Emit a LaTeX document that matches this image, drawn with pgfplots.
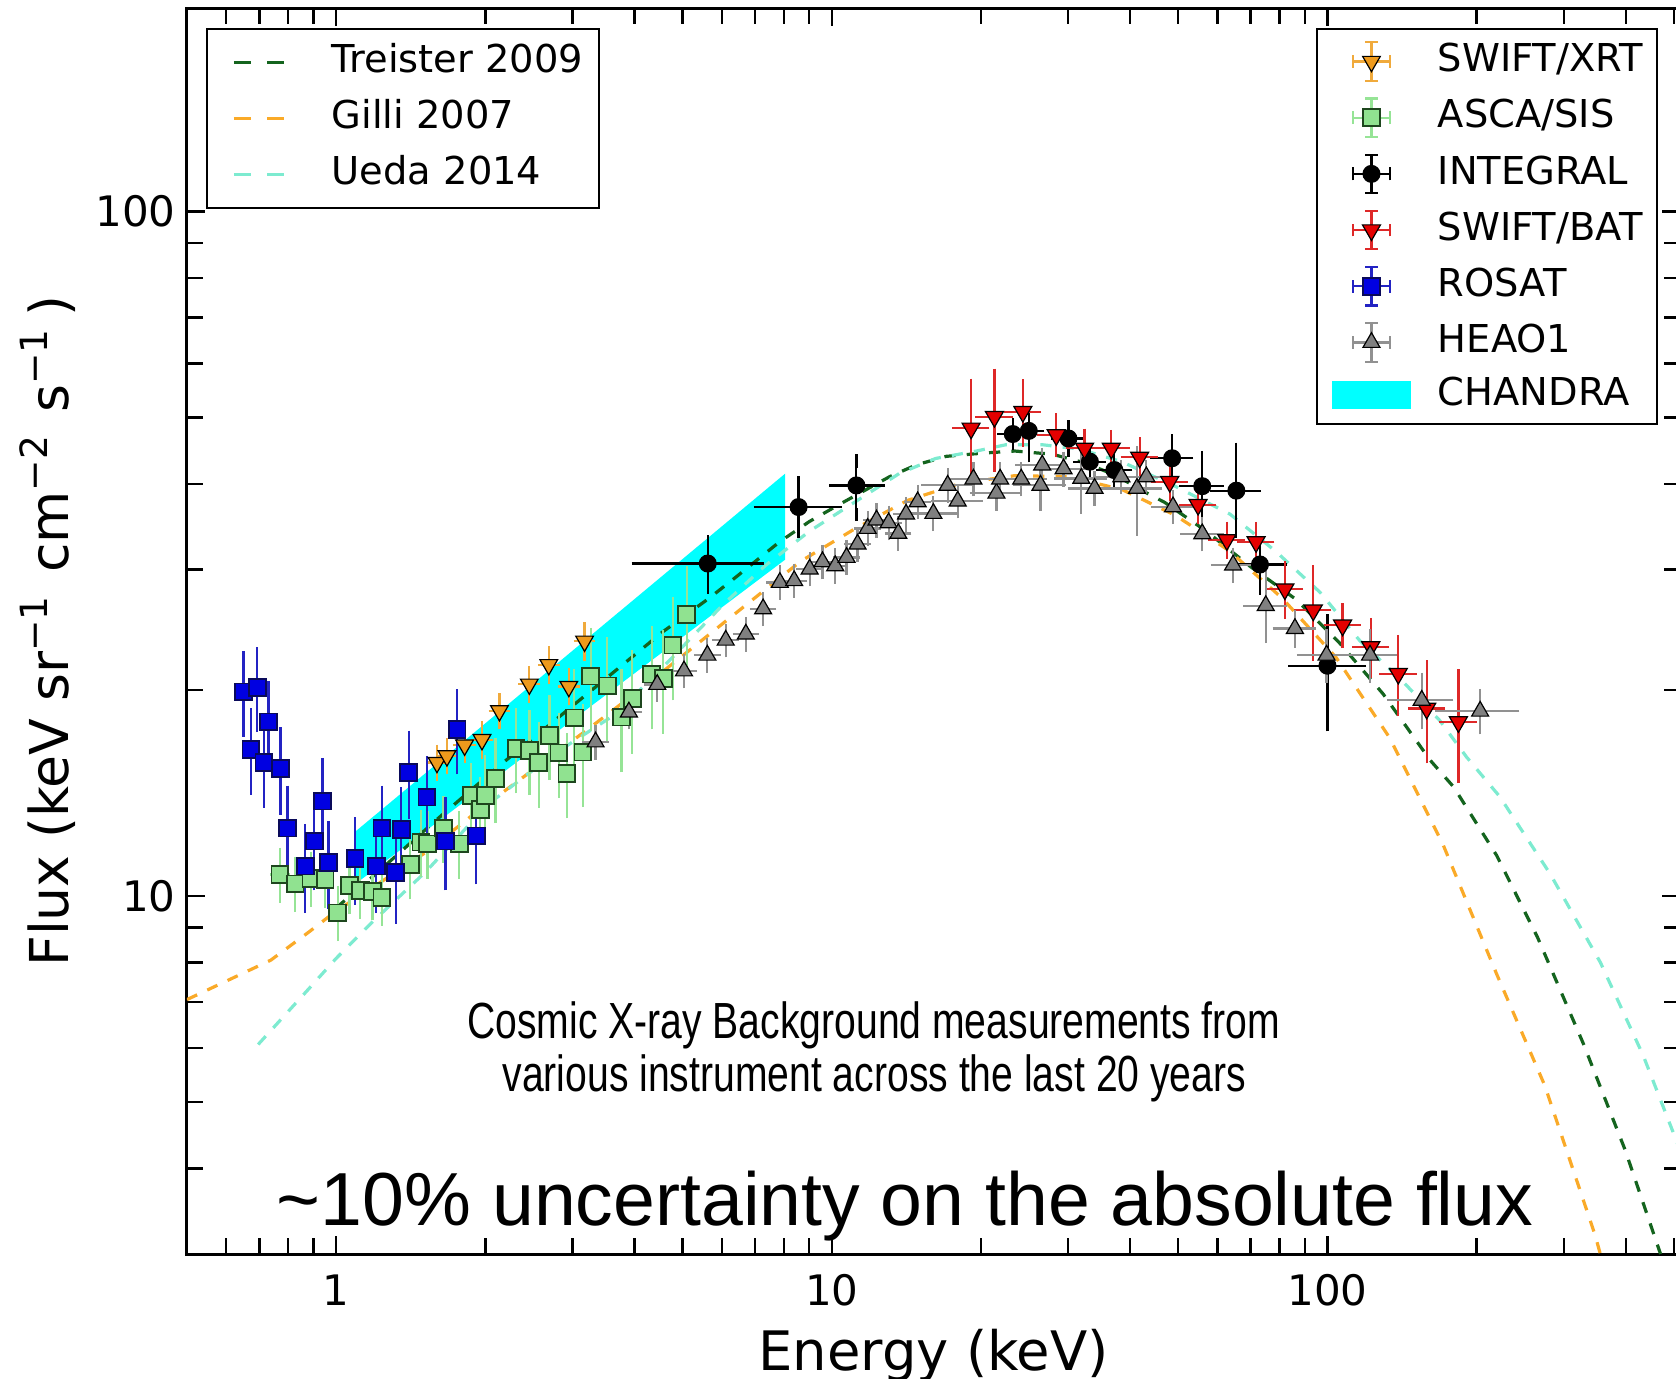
\documentclass[border=0pt]{standalone}
\usepackage{fontspec}
\setmainfont{DejaVu Sans}
\newfontfamily\lib{Liberation Sans}
\usepackage{graphicx}
\usepackage{pgfplots}
\pgfplotsset{compat=1.18}
\usepackage{pgfplotstable}

\definecolor{xrtc}{RGB}{238,154,28}
\definecolor{xrterr}{RGB}{240,170,60}
\definecolor{ascaf}{RGB}{144,226,144}
\definecolor{ascae}{RGB}{30,70,30}
\definecolor{ascaerr}{RGB}{150,228,150}
\definecolor{batf}{RGB}{228,0,0}
\definecolor{baterr}{RGB}{222,40,40}
\definecolor{rosf}{RGB}{0,0,225}
\definecolor{rose}{RGB}{10,10,90}
\definecolor{roserr}{RGB}{35,35,195}
\definecolor{heaof}{RGB}{128,128,128}
\definecolor{heaoerr}{RGB}{145,145,145}
\definecolor{treic}{RGB}{20,100,30}
\definecolor{gilc}{RGB}{250,170,40}
\definecolor{uedac}{RGB}{125,235,208}
\definecolor{chandra}{RGB}{0,255,255}

\pgfplotstableread{
x y ex ey
1.597 15.67 0.03 0.6
1.673 16.02 0.03 0.6
1.816 16.61 0.04 0.6
1.969 16.92 0.04 0.7
2.135 18.65 0.04 0.7
2.453 20.39 0.05 0.8
2.685 21.77 0.05 0.9
2.947 20.23 0.06 0.8
3.171 23.56 0.06 1.0
}\xrt

\pgfplotstableread{
x y ex ey
0.770 10.75 0.01 0.75
0.826 10.42 0.01 0.73
0.889 10.60 0.01 0.74
0.950 10.56 0.01 0.74
1.007 9.45 0.01 0.66
1.064 10.36 0.01 0.73
1.118 10.19 0.01 0.71
1.184 10.16 0.01 0.71
1.236 9.96 0.01 0.70
1.411 11.12 0.01 1.00
1.482 11.99 0.01 1.08
1.529 11.92 0.01 1.07
1.647 12.57 0.01 1.13
1.772 11.92 0.01 1.07
1.874 14.03 0.01 1.26
1.954 13.37 0.01 1.20
2.000 14.03 0.01 1.68
2.096 14.85 0.01 1.78
2.307 16.42 0.01 1.97
2.455 16.33 0.01 1.96
2.563 15.66 0.01 1.88
2.694 17.17 0.01 2.06
2.813 16.18 0.01 1.94
2.920 15.10 0.01 1.81
3.024 18.21 0.01 2.73
3.145 16.23 0.01 2.43
3.261 20.95 0.01 3.14
3.523 20.28 0.01 3.04
3.766 18.26 0.01 2.74
3.957 19.43 0.01 2.91
4.331 21.09 0.01 3.16
4.570 20.79 0.01 3.12
4.780 23.25 0.01 3.49
5.096 25.78 0.01 3.87
}\asca

\pgfplotstableread{
x y exm exp eym eyp
5.62 30.6 1.55 1.46 2.3 2.3
8.57 37.0 1.38 1.59 2.9 3.1
11.21 39.8 1.0 1.2 3.7 3.4
23.18 47.3 0.9 0.9 1.5 1.5
24.97 47.8 1.0 1.0 3.8 2.0
30.02 46.6 1.5 1.5 1.8 1.8
33.17 43.1 1.5 1.5 1.5 1.5
37.17 41.9 2.0 2.0 1.5 1.5
48.6 43.6 3.3 3.3 2.6 2.6
55.9 39.7 4.0 4.0 4.0 4.0
65.5 39.1 5.6 5.6 5.0 5.8
73.1 30.5 7.3 7.3 2.3 2.3
100 21.7 14 16 3.9 3.5
}\integral

\pgfplotstableread{
x y ex ey
19.10 48.22 1.05 7.5
21.29 50.13 1.17 7.5
24.29 50.99 1.34 4.6
28.37 47.14 1.56 2.4
32.36 45.07 1.78 2.0
36.64 45.07 2.0 1.8
41.80 43.73 2.3 2.0
48.07 40.29 2.6 1.7
54.83 37.31 3.0 1.6
62.67 33.13 3.4 1.3
71.79 32.91 3.9 1.5
82.06 28.07 4.5 2.1
93.62 26.15 5.1 3.6
107.3 24.86 5.9 1.3
122.3 23.11 6.7 1.8
139.0 21.13 7.6 2.4
158.6 18.79 8.7 2.8
183.8 17.96 10.1 3.0
}\bat

\pgfplotstableread{
x y ex ey
0.650 19.87 0.005 2.4
0.693 20.16 0.005 2.4
0.673 16.38 0.005 2.0
0.730 17.96 0.005 2.2
0.715 15.66 0.005 1.9
0.772 15.35 0.005 1.9
0.798 12.57 0.005 1.6
0.866 11.06 0.005 1.4
0.903 12.03 0.005 1.6
0.938 13.76 0.005 1.8
0.965 11.19 0.005 1.4
1.092 11.34 0.005 1.4
1.205 11.06 0.005 1.4
1.236 12.57 0.005 1.6
1.319 10.82 0.005 1.5
1.353 12.50 0.005 1.6
1.400 15.15 0.005 1.9
1.524 13.95 0.005 1.7
1.661 12.03 0.005 1.6
1.753 17.50 0.005 2.1
1.918 12.24 0.005 1.6
}\rosat

\pgfplotstableread{
x y ex ey
3.337 16.79 0.10 0.6
3.896 18.57 0.12 0.65
4.444 20.37 0.13 0.7
5.032 21.32 0.15 0.75
5.609 22.48 0.17 0.8
6.109 23.64 0.18 0.8
6.707 24.13 0.20 0.85
7.268 26.27 0.22 0.9
7.856 28.71 0.24 1.0
8.395 28.88 0.25 1.0
9.023 30.03 0.27 1.05
9.576 30.78 0.29 1.1
10.16 30.37 0.30 1.1
10.71 31.23 0.32 1.1
11.27 32.66 0.34 1.15
11.81 34.43 0.35 1.2
12.31 35.41 0.37 1.25
13.02 35.09 0.39 1.25
13.62 33.86 0.41 1.2
14.12 36.13 0.42 1.3
14.90 37.66 0.45 1.3
16.03 36.21 1.4 1.3
17.13 39.82 1.5 1.4
17.95 37.75 1.6 1.3
19.31 40.64 1.7 1.4
21.49 38.77 1.9 1.4
21.86 40.64 2.0 1.4
24.11 40.64 2.2 1.4
26.37 39.82 2.4 2.4
26.58 42.61 2.4 1.5
29.35 42.06 2.6 1.5
31.87 40.74 2.9 3.7
33.90 39.40 3.0 1.4
38.39 40.96 3.5 1.4
41.28 39.40 3.7 5.0
43.12 40.96 3.9 1.4
48.80 37.03 3.4 1.3
55.91 33.81 3.9 1.2
64.53 30.44 4.5 1.1
75.10 26.56 5.3 2.6
85.99 24.59 6.0 1.0
99.6 22.48 10 1.5
121.9 22.48 12 1.5
155.0 19.32 19 1.4
203.3 18.62 33 1.0
}\heao

\pgfplotstableread{
x y
1.000 9.61
1.184 10.67
1.636 13.14
2.162 15.62
2.758 18.04
3.537 20.91
4.557 24.31
5.644 27.20
6.362 29.12
7.839 32.90
9.009 35.24
10.35 37.32
13.08 40.98
14.81 42.64
17.02 43.88
20.16 44.36
23.41 44.67
27.86 44.19
32.33 42.95
37.54 41.12
41.88 39.26
46.96 37.58
57.01 34.10
69.91 30.29
86.56 27.10
106.1 23.37
129.5 19.74
161.2 15.79
179.8 14.43
219.4 11.47
265.1 8.72
328.3 6.09
398.6 4.26
470.0 3.00
}\treister

\pgfplotstableread{
x y
0.500 7.06
0.738 8.06
0.879 8.85
1.000 9.51
1.184 10.29
1.518 11.59
1.947 13.38
2.497 15.29
3.202 17.47
4.106 20.03
5.265 23.12
6.752 26.71
8.658 30.84
11.10 34.35
14.23 37.85
18.25 40.10
23.41 41.12
30.01 40.98
38.48 39.26
49.35 35.98
63.29 31.97
81.16 27.20
104.1 22.31
133.5 17.03
171.1 11.89
219.4 7.70
274.4 5.29
346.7 3.20
360.0 2.90
}\gilli

\pgfplotstableread{
x y
0.696 6.07
0.879 7.31
1.000 8.11
1.184 9.17
1.518 10.86
2.026 13.62
2.758 16.14
3.663 18.44
4.767 22.31
6.022 26.61
7.346 30.40
9.009 34.10
11.90 38.82
13.68 41.42
16.20 43.57
19.57 44.67
22.49 45.64
26.51 45.64
31.55 44.98
38.48 43.09
49.35 39.67
63.61 36.13
78.77 31.85
96.6 27.78
116.1 23.63
142.3 20.54
168.6 18.04
190.9 15.96
222.7 13.97
281.3 10.78
355.4 8.00
433.6 5.85
515.0 4.25
}\ueda

\pgfplotsset{
  ebar/.style={
    /pgfplots/error bars/x dir=both, /pgfplots/error bars/x explicit,
    /pgfplots/error bars/y dir=both, /pgfplots/error bars/y explicit,
    /pgfplots/error bars/error bar style={color=#1, line width=0.55pt, solid},
    /pgfplots/error bars/error mark options={color=#1, line width=0.55pt, mark size=1.7pt, solid}},
  errleg/.style={legend image code/.code={\path[draw=none,fill=none] (0pt,-4.8pt) rectangle (19.8pt,4.8pt);
    \draw[color=#1, line width=0.55pt] (5.2pt,0pt) -- (14.6pt,0pt) (9.9pt,-4.8pt) -- (9.9pt,4.8pt)
      (5.2pt,-1.6pt) -- (5.2pt,1.6pt) (14.6pt,-1.6pt) -- (14.6pt,1.6pt)
      (8.3pt,4.8pt) -- (11.5pt,4.8pt) (8.3pt,-4.8pt) -- (11.5pt,-4.8pt);
    \draw[##1] plot coordinates {(9.9pt,0pt)};}},
  chandraleg/.style={legend image code/.code={\fill[chandra, draw=none] (0pt,-3.5pt) rectangle (19.8pt,3.5pt);}},
}

\begin{document}
\begin{tikzpicture}
\begin{axis}[
  xmode=log, ymode=log, xmin=0.5, xmax=514.5, ymin=3, ymax=198,
  scale only axis, width=373.25pt, height=311.4pt,
  axis line style={line width=0.75pt},
  tick style={black, line width=0.6pt},
  tick align=inside, tick pos=both,
  major tick length=4.5pt, minor tick length=4pt,
  xtick={1,10,100}, xticklabels={1,10,100},
  minor xtick={0.5,0.6,0.7,0.8,0.9,2,3,4,5,6,7,8,9,20,30,40,50,60,70,80,90,200,300,400,500},
  ytick={10,100}, yticklabels={10,100},
  minor ytick={3,4,5,6,7,8,9,20,30,40,50,60,70,80,90},
  tick label style={font=\fontsize{10.5}{12}\selectfont},
  xticklabel style={anchor=base, inner sep=0pt, yshift=-12.75pt},
  yticklabel style={anchor=east, inner sep=0pt, xshift=-2.65pt},
  xlabel={Energy (keV)},
  ylabel={Flux (keV sr\textsuperscript{−1}\hspace{0.4em}cm\textsuperscript{−2}\hspace{0.4em}s\textsuperscript{−1}\hspace{0.2em})},
  xlabel style={font=\fontsize{13.6}{15}\selectfont, at={(axis description cs:0.5,-0.0939)}, anchor=base},
  ylabel style={font=\fontsize{13.4}{15}\selectfont, at={(axis description cs:-0.0931,0.5)}, anchor=center},
  legend cell align=left,
  legend style={at={(axis description cs:0,1)}, anchor=north west, xshift=4.75pt, yshift=-4.95pt,
    draw=black, line width=0.5pt, fill=white, font=\fontsize{9.6}{11}\selectfont,
    inner xsep=4pt, inner ysep=4.2pt, row sep=5.7pt,
    nodes={inner sep=0pt, text height=6.7pt, text depth=1.6pt},
    /tikz/every odd column/.append style={column sep=11.5pt}},
  legend image code/.code={\path[draw=none,fill=none] (0pt,0pt) -- (15.3pt,0pt);
    \draw[#1, dash pattern=on 4.2pt off 4.2pt] (2.7pt,0pt) -- (15.3pt,0pt);},
]
\addplot[fill=chandra, draw=none, forget plot] coordinates {(1.09,10.4) (8.05,31.0) (8.05,41.4) (1.09,12.4) (1.09,10.4)};
\addplot[treic, line width=0.8pt, dash pattern=on 2.8pt off 2.8pt] table[x=x,y=y]{\treister};
\addlegendentry{Treister 2009}
\addplot[gilc, line width=0.8pt, dash pattern=on 2.8pt off 2.8pt] table[x=x,y=y]{\gilli};
\addlegendentry{Gilli 2007}
\addplot[uedac, line width=0.8pt, dash pattern=on 2.8pt off 2.8pt] table[x=x,y=y]{\ueda};
\addlegendentry{Ueda 2014}
\end{axis}

\begin{axis}[
  xmode=log, ymode=log, xmin=0.5, xmax=514.5, ymin=3, ymax=198,
  scale only axis, width=373.25pt, height=311.4pt,
  hide axis,
  legend cell align=left,
  legend style={at={(axis description cs:1,1)}, anchor=north east, xshift=-5.4pt, yshift=-4.95pt,
    draw=black, line width=0.5pt, fill=white, font=\fontsize{9.6}{11}\selectfont,
    inner xsep=3.6pt, inner ysep=3pt, row sep=3.9pt,
    nodes={inner sep=0pt, text height=6.7pt, text depth=1.6pt},
    /tikz/every odd column/.append style={column sep=6.7pt}},
]
\addplot[only marks, mark=triangle*, mark size=2.55pt, mark options={rotate=180, fill=xrtc, draw=black, line width=0.3pt, solid}, ebar=xrterr, errleg=xrterr]
  table[x=x,y=y,x error=ex,y error=ey]{\xrt};
\addlegendentry{SWIFT/XRT}
\addplot[only marks, mark=square*, mark size=2.1pt, mark options={fill=ascaf, draw=ascae, line width=0.45pt, solid}, ebar=ascaerr, errleg=ascaerr]
  table[x=x,y=y,x error=ex,y error=ey]{\asca};
\addlegendentry{ASCA/SIS}
\addplot[only marks, mark=*, mark size=2.1pt, mark options={fill=black, draw=black, line width=0.3pt, solid}, ebar=black, errleg=black]
  table[x=x,y=y,x error minus=exm,x error plus=exp,y error minus=eym,y error plus=eyp]{\integral};
\addlegendentry{INTEGRAL}
\addplot[only marks, mark=triangle*, mark size=2.6pt, mark options={rotate=180, fill=batf, draw=black, line width=0.3pt, solid}, ebar=baterr, errleg=baterr]
  table[x=x,y=y,x error=ex,y error=ey]{\bat};
\addlegendentry{SWIFT/BAT}
\addplot[only marks, mark=square*, mark size=2.1pt, mark options={fill=rosf, draw=rose, line width=0.45pt, solid}, ebar=roserr, errleg=roserr]
  table[x=x,y=y,x error=ex,y error=ey]{\rosat};
\addlegendentry{ROSAT}
\addplot[only marks, mark=triangle*, mark size=2.45pt, mark options={fill=heaof, draw=black, line width=0.3pt, solid}, ebar=heaoerr, errleg=heaoerr]
  table[x=x,y=y,x error=ex,y error=ey]{\heao};
\addlegendentry{HEAO1}
\addlegendimage{chandraleg}
\addlegendentry{CHANDRA}

\node[anchor=base, inner sep=0pt] at (axis description cs:0.4600,0.1728)
  {\scalebox{0.77}[1]{\lib\fontsize{12.7}{14}\selectfont Cosmic X-ray Background measurements from}};
\node[anchor=base, inner sep=0pt] at (axis description cs:0.4604,0.1301)
  {\scalebox{0.77}[1]{\lib\fontsize{12.7}{14}\selectfont various instrument across the last 20 years}};
\node[anchor=base, inner sep=0pt] at (axis description cs:0.4810,0.0225)
  {\lib\fontsize{18.8}{20}\selectfont \textasciitilde 10\% uncertainty on the absolute flux};
\end{axis}
\pgfresetboundingbox
\path[use as bounding box] (-46.75pt,-31pt) rectangle (372.25pt,313.5pt);
\end{tikzpicture}
\end{document}
